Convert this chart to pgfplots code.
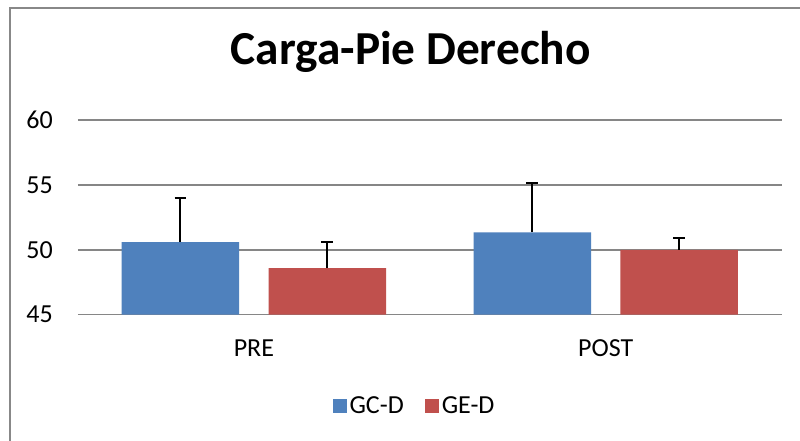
\documentclass[border=0pt]{standalone}
\usepackage{pgfplots}
\pgfplotsset{compat=1.18}
\usepackage{fontspec}
\setmainfont{Carlito}
\definecolor{bblue}{HTML}{4F81BD}
\definecolor{bred}{HTML}{C0504D}
\definecolor{gridgray}{RGB}{134,134,134}
\definecolor{framegray}{RGB}{136,136,136}
\begin{document}
\begin{tikzpicture}
\useasboundingbox (-58.5pt,-94.7pt) rectangle (541.5pt,236pt);
\fill[white] (-58.5pt,-94.7pt) rectangle (541.5pt,236pt);
\draw[framegray, line width=1.5pt] (-51.2pt,-100pt) -- (-51.2pt,230pt) -- (550pt,230pt);
\begin{axis}[
  at={(0pt,0pt)}, anchor=south west,
  scale only axis,
  width=527.7pt, height=145.9pt,
  xmin=-0.5, xmax=1.5,
  ymin=45, ymax=60,
  ytick={45,50,55,60},
  xtick={0,1},
  xticklabels={PRE,POST},
  axis line style={draw=none},
  major tick length=0pt,
  ymajorgrids,
  grid style={gridgray, line width=1.2pt},
  ybar, bar width=0.334, bar shift=0pt,
  /pgf/number format/assume math mode=true,
  tick label style={font=\fontsize{19.5}{23}\selectfont},
  yticklabel style={anchor=east, inner sep=0pt, xshift=-18.75pt},
  xticklabel style={anchor=base, inner sep=0pt, yshift=-31.5pt},
  title={Carga-Pie Derecho},
  title style={at={(0.473,1.244)}, anchor=base, inner sep=0pt, font=\fontsize{35.5}{42}\selectfont\bfseries},
  legend style={at={(0.479,-0.469)}, anchor=center, draw=none, fill=none,
    font=\fontsize{19.5}{23}\selectfont, legend columns=2,
    /tikz/every even column/.append style={column sep=14pt}},
  legend image code/.code={\fill[#1] (0pt,-5.25pt) rectangle (10.5pt,5.25pt);},
  error bars/error bar style={black, line width=1.5pt},
  error bars/error mark options={rotate=90, mark size=4.4pt, line width=1.5pt, black},
]
\addplot[fill=bblue, draw=none,
  error bars/.cd, y dir=plus, y explicit]
  coordinates {(-0.2087,50.59) +- (0,3.38) (0.7913,51.34) +- (0,3.84)};
\addlegendentry{GC-D}
\addplot[fill=bred, draw=none,
  error bars/.cd, y dir=plus, y explicit]
  coordinates {(0.2087,48.59) +- (0,2.00) (1.2087,49.99) +- (0,0.89)};
\addlegendentry{GE-D}
\end{axis}
\end{tikzpicture}
\end{document}
